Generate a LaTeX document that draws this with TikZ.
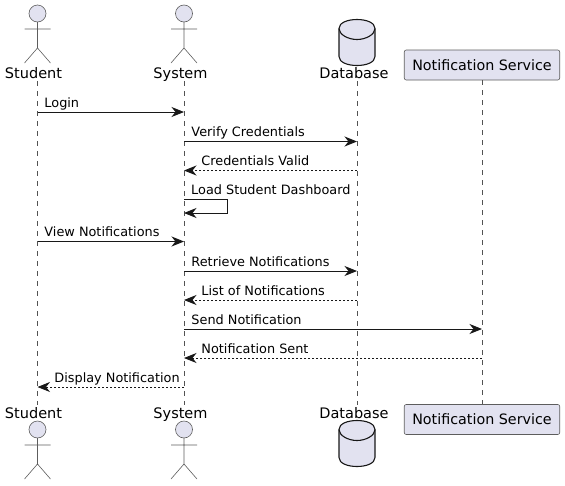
\documentclass[tikz,border=0pt]{standalone}
\usepackage{fontspec}
\setmainfont{DejaVu Sans}
\usetikzlibrary{arrows.meta, positioning, calc}
\definecolor{notefill}{RGB}{226, 226, 240}
\definecolor{noteline}{RGB}{24, 24, 24}
\tikzset{
    lifeline/.style={noteline!75, line width=0.5pt, dash pattern=on 5pt off 5pt},
    msg/.style={noteline, line width=0.9pt, -{Stealth[length=12.5pt, width=10pt, inset=4pt]}},
    reply/.style={msg, dash pattern=on 2pt off 2pt},
    msgtext/.style={anchor=base west, inner sep=0pt, font=\fontsize{12.85}{15}\selectfont, text=black},
    roletext/.style={inner sep=0pt, anchor=base, font=\fontsize{14.5}{16}\selectfont, text=black},
    servicebox/.style={draw=noteline!70, fill=notefill, line width=0.6pt, rounded corners=2pt,
        minimum width=155.5pt, minimum height=30pt, inner sep=0pt, font=\fontsize{14.3}{16}\selectfont},
    pics/actorfig/.style={code={
        \draw[noteline!70, line width=0.6pt, fill=notefill] (0,8.5) circle (8.5pt);
        \draw[noteline!70, line width=0.6pt] (0,17) -- (0,43) (-13,24) -- (13,24)
            (-13,58) -- (0,43) -- (13,58);
    }},
    pics/dbfig/.style={code={
        \draw[noteline, line width=1.1pt, fill=notefill] (-18,9) .. controls (-18,-3) and (18,-3) .. (18,9)
            -- (18,37) .. controls (18,49) and (-18,49) .. (-18,37) -- cycle;
        \draw[noteline, line width=1.1pt] (-18,9) .. controls (-18,15) and (-9,20) .. (0,20)
            .. controls (9,20) and (18,15) .. (18,9);
    }},
}
\begin{document}
\begin{tikzpicture}[x=1pt, y=-1pt]
    \useasboundingbox (0,0) rectangle (565,485);
    % Colonne
    \coordinate (stu) at (37.5,0);
    \coordinate (sys) at (184,0);
    \coordinate (db) at (357,0);
    \coordinate (ns) at (482,0);

    % Partecipanti sopra e sotto
    \foreach \col/\nm/\dx in {stu/Student/-4, sys/System/-3.5, db/Database/-3} {
        \coordinate (\col Top) at ($(\col)+(0,81)$);
        \coordinate (\col Bot) at ($(\col)+(0,405)$);
        \draw[lifeline] (\col Top) -- (\col Bot);
        \node[roletext] (\col Name) at ($(\col)+(\dx,78)$) {\nm};
        \node[roletext] (\col NameB) at ($(\col)+(\dx,418)$) {\nm};
    }
    \foreach \col in {stu, sys} {
        \pic at ($(\col)+(0,5)$) {actorfig};
        \pic at ($(\col)+(0,421)$) {actorfig};
    }
    \pic at ($(db)+(0,19.5)$) {dbfig};
    \pic at ($(db)+(0,420.5)$) {dbfig};

    \node[servicebox] (nsTop) at ($(ns)+(0,65)$) {Notification Service};
    \node[servicebox] (nsBot) at ($(ns)+(0,419.5)$) {Notification Service};
    \draw[lifeline] (nsTop) -- (nsBot);

    % Messaggi
    \foreach \i/\yy in {1/112, 2/141.5, 3/170.5, 4/199.5, 5/213, 6/241.5, 7/271, 8/300, 9/329, 10/358, 11/387}
        \coordinate (r\i) at (0,\yy);

    \draw[msg] (stu |- r1) -- (sys |- r1) node[msgtext, pos=0, xshift=6.5pt, yshift=4.6pt] (login) {Login};
    \draw[msg] (sys |- r2) -- (db |- r2) node[msgtext, pos=0, xshift=7pt, yshift=4.6pt] (verify) {Verify Credentials};
    \draw[reply] (db |- r3) -- (sys |- r3) node[msgtext, pos=1, xshift=17pt, yshift=4.6pt] (valid) {Credentials Valid};
    \coordinate (loopA) at ($(sys |- r4)+(43,0)$);
    \coordinate (loopB) at ($(sys |- r5)+(43,0)$);
    \draw[msg] (sys |- r4) -- (loopA) -- (loopB) -- (sys |- r5);
    \node[msgtext, yshift=4.6pt] (dash) at ($(sys |- r4)+(7,0)$) {Load Student Dashboard};
    \draw[msg] (stu |- r6) -- (sys |- r6) node[msgtext, pos=0, xshift=6.5pt, yshift=4.6pt] (view) {View Notifications};
    \draw[msg] (sys |- r7) -- (db |- r7) node[msgtext, pos=0, xshift=7pt, yshift=4.6pt] (retrieve) {Retrieve Notifications};
    \draw[reply] (db |- r8) -- (sys |- r8) node[msgtext, pos=1, xshift=17pt, yshift=4.6pt] (list) {List of Notifications};
    \draw[msg] (sys |- r9) -- (ns |- r9) node[msgtext, pos=0, xshift=7pt, yshift=4.6pt] (send) {Send Notification};
    \draw[reply] (ns |- r10) -- (sys |- r10) node[msgtext, pos=1, xshift=17pt, yshift=4.6pt] (sent) {Notification Sent};
    \draw[reply] (sys |- r11) -- (stu |- r11) node[msgtext, pos=1, xshift=16.5pt, yshift=4.6pt] (show) {Display Notification};
\end{tikzpicture}
\end{document}
